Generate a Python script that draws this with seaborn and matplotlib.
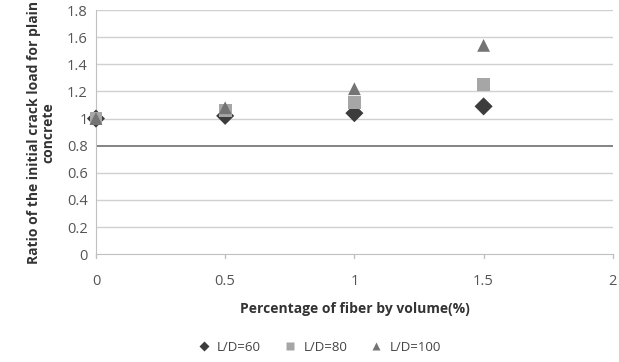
import numpy as np
import pandas as pd
import matplotlib
matplotlib.use('Agg')
import matplotlib.pyplot as plt
import seaborn as sns

# data
FIBER = [0, 0.5, 1, 1.5]
LD60 = [1.00, 1.02, 1.04, 1.09]
LD80 = [1.00, 1.06, 1.12, 1.25]
LD100 = [1.00, 1.08, 1.22, 1.54]
SERIES = ['L/D=60', 'L/D=80', 'L/D=100']
YTICKS = [0, 0.2, 0.4, 0.6, 0.8, 1, 1.2, 1.4, 1.6, 1.8]
XTICKS = [0, 0.5, 1, 1.5, 2]

sns.set_style('white')
plt.rcParams['font.family'] = ['Open Sans', 'DejaVu Sans']

df = pd.DataFrame({
    'x': FIBER * 3,
    'y': LD60 + LD80 + LD100,
    'series': [s for s in SERIES for _ in FIBER],
})

fig = plt.figure(figsize=(6.19, 3.62), dpi=100)
ax = fig.add_axes([0.155, 0.298, 0.835, 0.674])

for v in YTICKS:
    if v == 0:
        continue
    if v == 0.8:
        ax.axhline(v, color='#6e6e6e', lw=1.2, zorder=0)
    else:
        ax.axhline(v, color='#d0d0d0', lw=1.0, zorder=0)

sns.scatterplot(data=df, x='x', y='y', hue='series', style='series',
                hue_order=SERIES, style_order=SERIES,
                palette={'L/D=60': '#3c3c3c', 'L/D=80': '#a6a6a6', 'L/D=100': '#747474'},
                markers={'L/D=60': 'D', 'L/D=80': 's', 'L/D=100': '^'},
                s=85, edgecolor='none', ax=ax, zorder=3, legend=True)
for coll in ax.collections:
    coll.set_clip_on(False)

ax.set_xlim(0, 2)
ax.set_ylim(0, 1.8)
ax.set_xticks(XTICKS)
ax.set_xticklabels(['0', '0.5', '1', '1.5', '2'])
ax.set_yticks(YTICKS)
ax.set_yticklabels(['0', '0.2', '0.4', '0.6', '0.8', '1', '1.2', '1.4', '1.6', '1.8'])
ax.tick_params(axis='both', labelsize=10.5, colors='#555555', length=0)
ax.tick_params(axis='x', pad=14)
ax.tick_params(axis='y', pad=6)
for lab in ax.get_xticklabels() + ax.get_yticklabels():
    lab.set_color('#555555')
for sp in ['top', 'right']:
    ax.spines[sp].set_visible(False)
ax.spines['left'].set_color('#c0c0c0')
ax.spines['bottom'].set_color('#c0c0c0')
for xt in XTICKS:
    ax.plot([xt, xt], [0, -0.03], color='#c0c0c0', lw=1, clip_on=False)

ax.set_xlabel('Percentage of fiber by volume(%)', fontsize=10, fontweight='bold',
              color='#333333', labelpad=10)
ax.set_ylabel('Ratio of the initial crack load for plain\nconcrete', fontsize=10,
              fontweight='bold', color='#333333', labelpad=8, linespacing=1.1)

handles, labels = ax.get_legend_handles_labels()
ax.get_legend().remove()
leg = fig.legend(handles, labels, loc='lower center', bbox_to_anchor=(0.51, -0.01),
                 ncol=3, frameon=False, fontsize=9.5, handletextpad=0.0,
                 columnspacing=1.2, markerscale=0.6)
for t in leg.get_texts():
    t.set_color('#444444')

fig.savefig('out.png', dpi=100)
